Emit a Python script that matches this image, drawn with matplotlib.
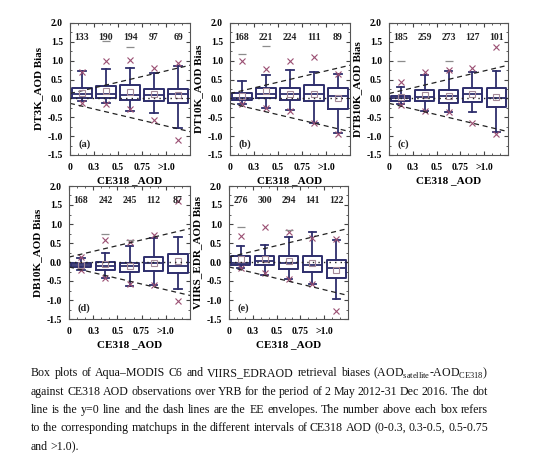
import numpy as np
import matplotlib
matplotlib.use("Agg")
import matplotlib.pyplot as plt
from matplotlib.ticker import MultipleLocator

plt.rcParams['font.family'] = ['Liberation Serif', 'DejaVu Serif']
plt.rcParams['axes.unicode_minus'] = False
plt.rcParams['mathtext.fontset'] = 'custom'
plt.rcParams['mathtext.rm'] = 'Liberation Serif'

nan = np.nan

# --- data (one row per panel a..e, one value per AOD bin) ---
panel_tags = ['(a)', '(b)', '(c)', '(d)', '(e)']
ylabels = ['DT3K_AOD Bias', 'DT10K_AOD Bias', 'DTB10K_AOD Bias',
           'DB10K_AOD Bias', 'VIIRS_EDR_AOD Bias']
bin_labels = ['0', '0.3', '0.5', '0.75', '>1.0']

counts = [[133, 190, 194, 97, 69],
          [168, 221, 224, 111, 89],
          [185, 259, 273, 127, 101],
          [168, 242, 245, 112, 87],
          [276, 300, 294, 141, 122]]

q1 = [[0.01, 0.01, -0.03, -0.07, -0.11],
      [-0.04, 0.00, -0.05, -0.07, -0.27],
      [-0.08, -0.06, -0.12, -0.09, -0.22],
      [-0.14, -0.21, -0.27, -0.24, -0.28],
      [-0.07, -0.07, -0.18, -0.26, -0.42]]
med = [[0.12, 0.12, 0.10, 0.10, 0.13],
       [0.02, 0.11, 0.11, 0.11, 0.06],
       [0.00, 0.04, 0.06, 0.11, 0.01],
       [-0.08, -0.11, -0.11, -0.02, -0.10],
       [-0.03, 0.03, -0.03, -0.07, -0.15]]
q3 = [[0.28, 0.33, 0.35, 0.26, 0.26],
      [0.15, 0.28, 0.28, 0.35, 0.27],
      [0.07, 0.22, 0.23, 0.27, 0.27],
      [-0.02, 0.01, -0.02, 0.12, 0.20],
      [0.15, 0.17, 0.15, 0.17, 0.04]]
means = [[0.15, 0.19, 0.18, 0.12, 0.10],
         [0.06, 0.19, 0.13, 0.13, 0.00],
         [0.03, 0.09, 0.07, 0.13, 0.05],
         [-0.09, -0.06, -0.11, -0.03, 0.03],
         [0.08, 0.09, 0.03, -0.03, -0.20]]
whis_lo = [[-0.07, -0.12, -0.33, -0.38, -0.78],
           [-0.16, -0.25, -0.30, -0.66, -0.91],
           [-0.15, -0.33, -0.37, -0.37, -0.90],
           [-0.20, -0.42, -0.64, -0.60, -0.72],
           [-0.16, -0.33, -0.46, -0.59, -0.97]]
whis_hi = [[0.72, 0.77, 0.81, 0.68, 0.86],
           [0.46, 0.61, 0.75, 0.70, 0.64],
           [0.31, 0.63, 0.73, 0.69, 0.72],
           [0.10, 0.25, 0.42, 0.62, 0.67],
           [0.41, 0.45, 0.67, 0.80, 0.58]]
pct_hi = [[0.70, 0.98, 1.03, 0.81, 0.94],
          [0.99, 0.77, 0.99, 1.10, 0.64],
          [0.44, 0.71, 0.75, 0.80, 1.37],
          [0.13, 0.57, 0.52, 0.70, 1.60],
          [0.69, 0.91, 0.80, 0.63, 0.60]]
pct_lo = [[-0.12, -0.15, -0.28, -0.56, -1.10],
          [-0.14, -0.25, -0.34, -0.66, -0.93],
          [-0.18, -0.33, -0.35, -0.66, -0.93],
          [-0.20, -0.42, -0.57, -0.60, -1.03],
          [-0.16, -0.29, -0.46, -0.59, -1.28]]
max_mark = [[nan, 1.52, 1.36, nan, nan],
            [1.17, 1.39, nan, nan, nan],
            [1.00, nan, 1.00, nan, nan],
            [nan, 0.74, 0.58, nan, nan],
            [0.93, nan, 0.84, nan, nan]]

ee_start = 0.13   # EE envelope at left edge
ee_end = 0.88     # EE envelope at right edge

caption_lines = [
    "Box plots of Aqua\u2013MODIS C6 and VIIRS_EDRAOD retrieval biases (AOD$_{\\mathrm{satellite}}$-AOD$_{\\mathrm{CE318}}$)",
    "against CE318 AOD observations over YRB for the period of 2 May 2012-31 Dec 2016. The dot",
    "line is the y=0 line and the dash lines are the EE envelopes. The number above each box refers",
    "to the corresponding matchups in the different intervals of CE318 AOD (0-0.3, 0.3-0.5, 0.5-0.75",
    "and >1.0).",
]

W, H = 550, 469
fig = plt.figure(figsize=(W / 100, H / 100), dpi=100)

# panel boxes in pixels: left, top, right, bottom
px_boxes = [(70, 23, 190, 155), (230, 23, 350, 155), (389, 23, 508, 155),
            (69, 186, 190, 319), (229, 186, 348, 319)]

box_col = '#2e2e6c'
x_col = '#9a4f72'
mean_col = '#a58a99'

for i in range(5):
    l, t, r, b = px_boxes[i]
    ax = fig.add_axes([l / W, 1 - b / H, (r - l) / W, (b - t) / H])
    ax.patch.set_alpha(0)
    pos = np.arange(5) + 0.5
    stats = []
    for j in range(5):
        stats.append(dict(med=med[i][j], q1=q1[i][j], q3=q3[i][j],
                          whislo=whis_lo[i][j], whishi=whis_hi[i][j],
                          mean=means[i][j], fliers=[pct_lo[i][j], pct_hi[i][j]]))
    ax.bxp(stats, positions=pos, widths=0.8, showmeans=True, capwidths=0.3,
           boxprops=dict(color=box_col, lw=1.4),
           medianprops=dict(color=box_col, lw=1.3),
           whiskerprops=dict(color=box_col, lw=1.3),
           capprops=dict(color=box_col, lw=1.3),
           meanprops=dict(marker='s', markersize=4, markerfacecolor='none',
                          markeredgecolor=mean_col, markeredgewidth=0.8),
           flierprops=dict(marker='x', markersize=5, markeredgecolor=x_col,
                           markeredgewidth=0.8, linestyle='none'))
    ax.plot(pos, max_mark[i], linestyle='none', marker='_', markersize=6,
            color='#8c8c8c', markeredgewidth=0.9)

    ax.axhline(0, color='#222222', ls=(0, (1, 3)), lw=1.0, zorder=3)
    ax.plot([0, 5], [ee_start, ee_end], color='#222222', ls=(0, (4, 3)), lw=0.9)
    ax.plot([0, 5], [-ee_start, -ee_end], color='#222222', ls=(0, (4, 3)), lw=0.9)

    for j in range(5):
        ax.text(pos[j], 1.61, str(counts[i][j]), ha='center', va='center',
                fontsize=7, fontweight='bold', color='#222222')
    ax.text(0.62, -1.22, panel_tags[i], ha='center', va='center',
            fontsize=7.5, fontweight='bold', color='#222222')

    ax.set_xlim(0, 5)
    ax.set_ylim(-1.5, 2.0)
    ax.set_xticks(np.arange(5))
    ax.set_xticklabels(bin_labels)
    ax.xaxis.set_minor_locator(MultipleLocator(1 / 3))
    ax.yaxis.set_major_locator(MultipleLocator(0.5))
    ax.yaxis.set_minor_locator(MultipleLocator(0.25))
    ax.yaxis.set_major_formatter(matplotlib.ticker.FormatStrFormatter('%.1f'))
    ax.tick_params(which='both', direction='in', top=True, right=True,
                   labelsize=7, color='#444444', pad=5)
    ax.tick_params(axis='x', which='major', pad=6)
    ax.tick_params(which='major', length=3)
    ax.tick_params(which='minor', length=1.5)
    for lab in ax.get_xticklabels() + ax.get_yticklabels():
        lab.set_fontweight('bold')
    for sp in ax.spines.values():
        sp.set_color('#555555')
        sp.set_linewidth(0.8)
    ax.set_ylabel(ylabels[i], fontsize=8, fontweight='bold', labelpad=3)
    ax.set_xlabel('CE318 _AOD', fontsize=8, fontweight='bold', labelpad=2.5)

# justified caption
renderer = fig.canvas.get_renderer()
x_left, x_right = 31, 488
line_y = [373, 392, 410, 428, 447]
cap_size = 8.6
for k, line in enumerate(caption_lines):
    words = line.split(' ')
    texts = [fig.text(0, 0, w, fontsize=cap_size, va='center', ha='left',
                      color='#111111') for w in words]
    widths = [t.get_window_extent(renderer).width for t in texts]
    if k < len(caption_lines) - 1:
        gap = (x_right - x_left - sum(widths)) / (len(words) - 1)
    else:
        gap = cap_size * 0.25
    x = x_left
    for t, w in zip(texts, widths):
        t.set_position((x / W, 1 - line_y[k] / H))
        x += w + gap

fig.savefig('out.png', dpi=100)
